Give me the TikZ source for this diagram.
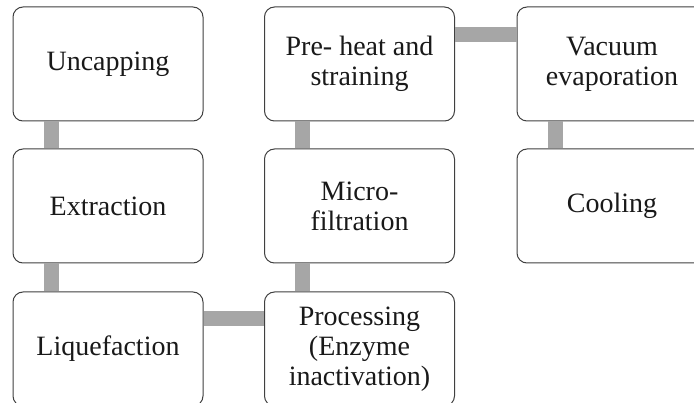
\documentclass[tikz,border=0pt]{standalone}
\usepackage{fontspec}
\setmainfont{Liberation Serif}
\tikzset{
  stage/.style={draw=black!75, line width=1pt, fill=white, rounded corners=10pt,
    minimum width=190pt, minimum height=114pt, inner sep=0pt, align=center,
    font=\fontsize{28}{30}\selectfont, text=black!90},
  bar/.style={draw=black!35, line width=15pt}
}
\begin{document}
\begin{tikzpicture}[x=1pt,y=-1pt]
\useasboundingbox (0,0) rectangle (694,403);
\clip (0,0) rectangle (694,403);
\node[stage] (unc) at (108,64) {Uncapping};
\node[stage] (ext) at (108,206) {Extraction};
\node[stage] (liq) at (108,349) {Liquefaction};
\node[stage] (proc) at (359.5,349) {Processing\\(Enzyme\\inactivation)};
\node[stage] (micro) at (359.5,206) {Micro-\\filtration};
\node[stage] (pre) at (359.5,64) {Pre- heat and\\straining};
\node[stage] (vac) at (612,64) {Vacuum\\evaporation};
\node[stage] (cool) at (612,206) {Cooling};
\begin{scope}[on background layer/.try]
\end{scope}
\draw[bar] ([xshift=38.5pt]unc.south west) -- ([xshift=38.5pt]ext.north west);
\draw[bar] ([xshift=38.5pt]ext.south west) -- ([xshift=38.5pt]liq.north west);
\draw[bar] ([yshift=-27.5pt]liq.north east) -- ([yshift=-27.5pt]proc.north west);
\draw[bar] ([xshift=38.5pt]proc.north west) -- ([xshift=38.5pt]micro.south west);
\draw[bar] ([xshift=38.5pt]micro.north west) -- ([xshift=38.5pt]pre.south west);
\draw[bar] ([yshift=-28pt]pre.north east) -- ([yshift=-28pt]vac.north west);
\draw[bar] ([xshift=38.5pt]vac.south west) -- ([xshift=38.5pt]cool.north west);
\end{tikzpicture}
\end{document}
